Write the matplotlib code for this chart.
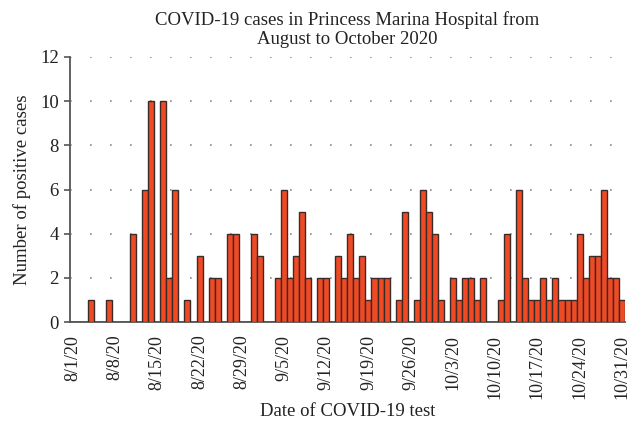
import matplotlib
matplotlib.use("Agg")
import matplotlib.pyplot as plt
import numpy as np

# daily positive cases, 8/1/20 .. 10/31/20 (92 days)
counts = [
    0, 0, 0, 1, 0, 0, 1, 0, 0, 0,
    4, 0, 6, 10, 0, 10, 2, 6, 0, 1,
    0, 3, 0, 2, 2, 0, 4, 4, 0, 0,
    4, 3, 0, 0, 2, 6, 2, 3, 5, 2,
    0, 2, 2, 0, 3, 2, 4, 2, 3, 1,
    2, 2, 2, 0, 1, 5, 0, 1, 6, 5,
    4, 1, 0, 2, 1, 2, 2, 1, 2, 0,
    0, 1, 4, 0, 6, 2, 1, 1, 2, 1,
    2, 1, 1, 1, 4, 2, 3, 3, 6, 2,
    2, 1,
]
tick_labels = ["8/1/20", "8/8/20", "8/15/20", "8/22/20", "8/29/20", "9/5/20",
               "9/12/20", "9/19/20", "9/26/20", "10/3/20", "10/10/20",
               "10/17/20", "10/24/20", "10/31/20"]

plt.rcParams["font.family"] = ["Liberation Serif", "DejaVu Serif"]
plt.rcParams["text.color"] = "#222222"

fig = plt.figure(figsize=(6.35, 4.25), dpi=100)
ax = fig.add_axes([0.110, 0.242, 0.874, 0.624])

days = np.arange(len(counts))
ax.bar(days, counts, width=1.0, color="#F04A25", edgecolor="#3a2a28", linewidth=1.0, zorder=3)

ax.set_xlim(-0.5, len(counts) - 0.5)
ax.set_ylim(0, 12)
ax.set_yticks(range(0, 13, 2))
ax.set_xticks(days[::7])
ax.set_xticklabels(tick_labels, rotation=90, va="top")

ax.grid(axis="y", color="#888888", linestyle=(0, (1, 11)), linewidth=1.2, zorder=0)
ax.set_axisbelow(True)

for s in ["top", "right"]:
    ax.spines[s].set_visible(False)
for s in ["left", "bottom"]:
    ax.spines[s].set_color("#555555")
    ax.spines[s].set_linewidth(1.3)

ax.tick_params(axis="y", length=4, width=1.2, color="#555555", labelsize=13.5,
               labelcolor="#222222", pad=4)
ax.tick_params(axis="x", length=0, labelsize=13, labelcolor="#222222", pad=9)

ax.set_title("COVID-19 cases in Princess Marina Hospital from\nAugust to October 2020",
             fontsize=13.5, pad=9, linespacing=1.2)
fig.text(1 - 613 / 635, 0.554, "Number of positive cases", fontsize=13.5,
         rotation=90, ha="center", va="center")
fig.text(0.547, 1 - 412 / 425, "Date of COVID-19 test", fontsize=13.5,
         ha="center", va="center")

fig.savefig("out.png", dpi=100)
